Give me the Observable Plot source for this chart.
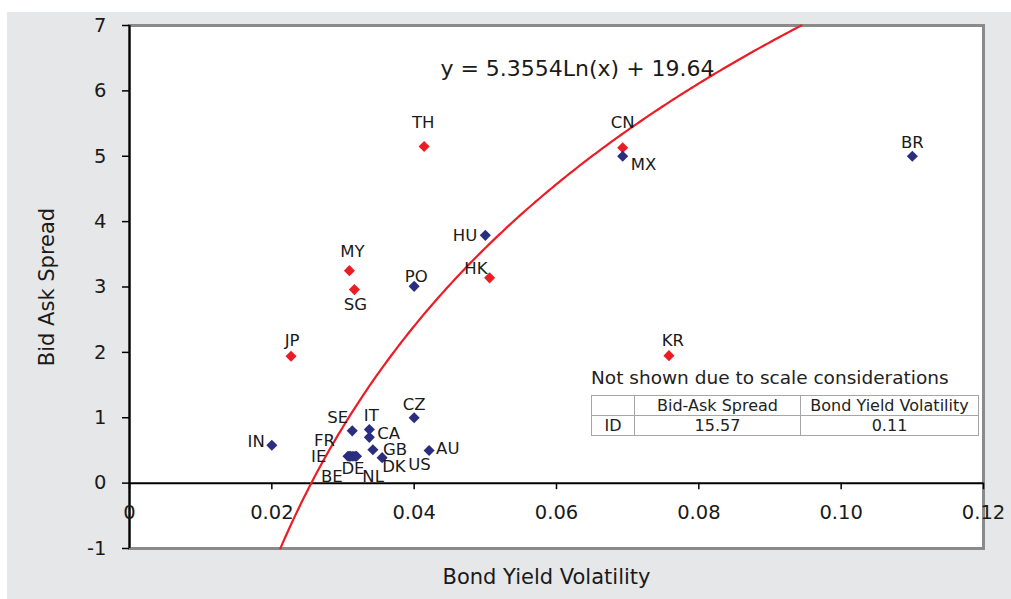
<!DOCTYPE html>
<html>
<head>
<meta charset="utf-8">
<script src="https://cdn.jsdelivr.net/npm/d3@7"></script>
<script src="https://cdn.jsdelivr.net/npm/@observablehq/plot@0.6"></script>
<style>
  body { margin: 0; background: #ffffff; font-family: "DejaVu Sans", Verdana, sans-serif; }
  #chart { position: absolute; left: 7px; top: 12px; width: 1004px; height: 587px; background: #e6e7e8; }
  #note { position: absolute; left: 591px; top: 367px; font-size: 18.5px; color: #222; white-space: nowrap; }
  #tbl { position: absolute; left: 591px; top: 395px; border-collapse: collapse; font-size: 16px; color: #222; background: #fff; }
  #tbl td { border: 1.5px solid #a6a6a6; height: 19px; padding: 0; text-align: center; white-space: nowrap; line-height: 19px; }
</style>
</head>
<body>
<div id="chart"></div>
<div id="note"></div>
<table id="tbl"></table>
<script>
// ---- data ----
const countries  = ["IN","SE","IT","CA","FR","IE","BE","DE","NL","US","GB","DK","AU","CZ","PO","HU","MX","BR","JP","MY","SG","TH","HK","CN","KR"];
const volatility = [0.0200,0.0313,0.0337,0.0337,0.0307,0.0309,0.0311,0.0314,0.0317,0.0319,0.0342,0.0355,0.0421,0.0400,0.0400,0.0500,0.0693,0.1100,0.0227,0.0309,0.0316,0.0414,0.0506,0.0693,0.0758];
const spread     = [0.58,0.80,0.82,0.70,0.41,0.41,0.41,0.41,0.41,0.41,0.51,0.39,0.50,1.00,3.01,3.79,5.00,5.00,1.94,3.25,2.96,5.15,3.14,5.13,1.95];
const group      = ["other","other","other","other","other","other","other","other","other","other","other","other","other","other","other","other","other","other","asia","asia","asia","asia","asia","asia","asia"];

const xTicks = [0, 0.02, 0.04, 0.06, 0.08, 0.10, 0.12];
const yTicks = [-1, 0, 1, 2, 3, 4, 5, 6, 7];
const trendCoef = [5.3554, 19.64];          // y = a*ln(x) + b
const trendXRange = [0.0212, 0.0944];
const equationText = "y = 5.3554Ln(x) + 19.64";
const xTitle = "Bond Yield Volatility";
const yTitle = "Bid Ask Spread";
const noteText = "Not shown due to scale considerations";
const tableHeader = ["", "Bid-Ask Spread", "Bond Yield Volatility"];
const tableRow = ["ID", "15.57", "0.11"];

// ---- label placement (style) ----
const labelAnchor = ["end","end","middle","start","end","end","middle","middle","middle","middle","start","start","start","middle","middle","end","start","middle","middle","middle","middle","middle","end","middle","middle"];
const labelDx = [-7,-4,2,8,-13,-23,-19,0,18,63,10,0,7,0,2,-8,8,0,1,3,1,-1,-2,0,4];
const labelDy = [-3,-13,-14,-4,-16,0,20,12,20,8,0,9,-2,-13,-10,0,8,-14,-16,-19,15,-24,-9,-25,-15];

const colors = {other: "#2b2e7e", asia: "#ec1c24"};

const points = countries.map((c, i) => ({
  name: c, x: volatility[i], y: spread[i], g: group[i],
  anchor: labelAnchor[i], dx: labelDx[i], dy: labelDy[i]
}));

const trend = d3.range(0, 201).map(k => {
  const x = trendXRange[0] + (trendXRange[1] - trendXRange[0]) * k / 200;
  return {x, y: trendCoef[0] * Math.log(x) + trendCoef[1]};
});

const font = "DejaVu Sans, Verdana, sans-serif";

const labelMarks = points.map(p => Plot.text([p], {
  x: "x", y: "y", text: "name", textAnchor: p.anchor, dx: p.dx, dy: p.dy,
  fontSize: 16.5, fill: "#1a1a1a"
}));

const plot = Plot.plot({
  width: 1004,
  height: 587,
  marginLeft: 122,
  marginRight: 28,
  marginTop: 13,
  marginBottom: 51,
  style: {fontFamily: font, background: "transparent", color: "#1a1a1a"},
  x: {domain: [0, 0.12], axis: null},
  y: {domain: [-1, 7], axis: null},
  marks: [
    Plot.frame({fill: "white", stroke: "#8a8a8a", strokeWidth: 3}),
    Plot.ruleX([0], {stroke: "black", strokeWidth: 2}),
    Plot.ruleY([0], {stroke: "black", strokeWidth: 2}),
    Plot.ruleX(xTicks, {x: d => d, y1: 0, y2: -0.1, stroke: "black", strokeWidth: 1.5}),
    Plot.text(xTicks, {x: d => d, y: 0, dy: 30, text: d => d === 0 ? "0" : d3.format(".2f")(d), fontSize: 19.5, fill: "#1a1a1a"}),
    Plot.axisY(yTicks, {anchor: "left", tickSize: 7, tickPadding: 16, fontSize: 19.5, label: null, tickFormat: d => String(d), stroke: "black", strokeWidth: 1.5}),
    Plot.text([yTitle], {frameAnchor: "left", textAnchor: "middle", rotate: -90, dx: -82, fontSize: 21, fill: "#1a1a1a"}),
    Plot.text([xTitle], {frameAnchor: "bottom", dx: -10, dy: 35, fontSize: 21, fill: "#1a1a1a"}),
    Plot.line(trend, {x: "x", y: "y", stroke: "#ec1c24", strokeWidth: 2.2}),
    Plot.text([equationText], {frameAnchor: "top", dx: 21, dy: 35, fontSize: 22, fill: "#1a1a1a"}),
    Plot.dot(points.filter(p => p.g === "asia"), {x: "x", y: "y", symbol: "diamond2", r: 5, fill: colors.asia, stroke: "none"}),
    Plot.dot(points.filter(p => p.g === "other"), {x: "x", y: "y", symbol: "diamond2", r: 5, fill: colors.other, stroke: "none"}),
    ...labelMarks
  ]
});
document.getElementById("chart").appendChild(plot);

document.getElementById("note").textContent = noteText;
const tbl = document.getElementById("tbl");
const widths = [42, 165, 177];
[tableHeader, tableRow].forEach(row => {
  const tr = document.createElement("tr");
  row.forEach((cell, j) => {
    const td = document.createElement("td");
    td.textContent = cell;
    td.style.width = widths[j] + "px";
    tr.appendChild(td);
  });
  tbl.appendChild(tr);
});
</script>
</body>
</html>
